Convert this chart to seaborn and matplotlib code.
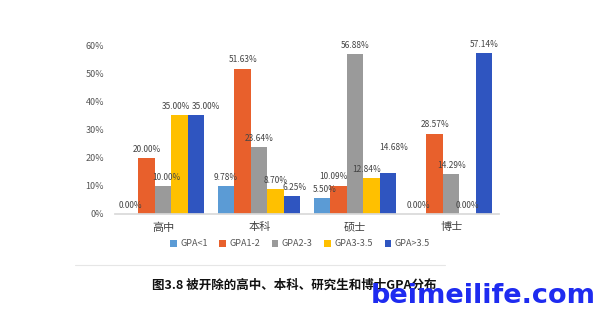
import matplotlib
matplotlib.use("Agg")
import matplotlib.pyplot as plt
import seaborn as sns
import pandas as pd

categories = ["高中", "本科", "硕士", "博士"]
series = ["GPA<1", "GPA1-2", "GPA2-3", "GPA3-3.5", "GPA>3.5"]
v_lt1 = [0.00, 9.78, 5.50, 0.00]
v_1_2 = [20.00, 51.63, 10.09, 28.57]
v_2_3 = [10.00, 23.64, 56.88, 14.29]
v_3_35 = [35.00, 8.70, 12.84, 0.00]
v_gt35 = [35.00, 6.25, 14.68, 57.14]
colors = ["#5B9BD5", "#E8602C", "#9A9A9A", "#FFC000", "#2F55C0"]
yticks = [0, 10, 20, 30, 40, 50, 60]

sns.set_theme(style="white")
plt.rcParams['font.family'] = ['Noto Sans CJK SC', 'DejaVu Sans']

rows = []
for s, vals in zip(series, [v_lt1, v_1_2, v_2_3, v_3_35, v_gt35]):
    for c, v in zip(categories, vals):
        rows.append({"cat": c, "series": s, "value": v})
df = pd.DataFrame(rows)

fig = plt.figure(figsize=(6, 3.11), dpi=100)
ax = fig.add_axes([0.192, 0.312, 0.64, 0.543])
sns.barplot(data=df, x="cat", y="value", hue="series", hue_order=series,
            order=categories, palette=colors, width=0.86, ax=ax,
            saturation=1, legend=True, linewidth=0)

# label offsets (points) per (series index, category index) to avoid overlap
offsets = {(3, 0): (-3, 3), (4, 0): (7, 3), (3, 1): (0, 3), (4, 1): (2, 3),
           (3, 2): (-4, 3), (4, 2): (4, 15), (1, 2): (-4, 3), (0, 2): (2, 3),
           (2, 0): (2, 3)}
for si, cont in enumerate(ax.containers):
    for ci, (bar, v) in enumerate(zip(cont, cont.datavalues)):
        dx, dy = offsets.get((si, ci), (0, 3))
        ax.annotate(f"{v:.2f}%", (bar.get_x() + bar.get_width() / 2, bar.get_height()),
                    xytext=(dx, dy), textcoords="offset points", ha="center",
                    va="bottom", fontsize=6, color="#444444")

ax.set_ylim(0, 60)
ax.set_yticks(yticks)
ax.set_yticklabels([f"{t}%" for t in yticks], fontsize=6.5, color="#555555")
ax.tick_params(axis="x", labelsize=8, colors="#444444", length=0, pad=6)
ax.tick_params(axis="y", length=0, pad=8)
ax.set_xlabel("")
ax.set_ylabel("")
for side in ["top", "right", "left"]:
    ax.spines[side].set_visible(False)
ax.spines["bottom"].set_color("#D9D9D9")
ax.set_xlim(-0.5, 3.5)

handles, labels = ax.get_legend_handles_labels()
ax.get_legend().remove()
fig.legend(handles, labels, loc="center", bbox_to_anchor=(300/600, 1-244/311), ncol=5,
           frameon=False, fontsize=6.5, handlelength=0.7, handleheight=0.7,
           columnspacing=1.3, handletextpad=0.4, labelcolor="#555555")

fig.add_artist(plt.Line2D([75/600, 445/600], [1-265/311, 1-265/311],
                          color="#E6E6E6", lw=0.8))
fig.text(152/600, 1-285/311, "图3.8 被开除的高中、本科、研究生和博士GPA分布",
         fontsize=9, fontweight="bold", color="#111111", va="center", ha="left")
fig.text(596/600, 1-296/311, "beimeilife.com", fontsize=19.5, fontweight="heavy",
         color="#1E2BF0", va="center", ha="right", family="DejaVu Sans")

fig.savefig("out.png", dpi=100, facecolor="white")
